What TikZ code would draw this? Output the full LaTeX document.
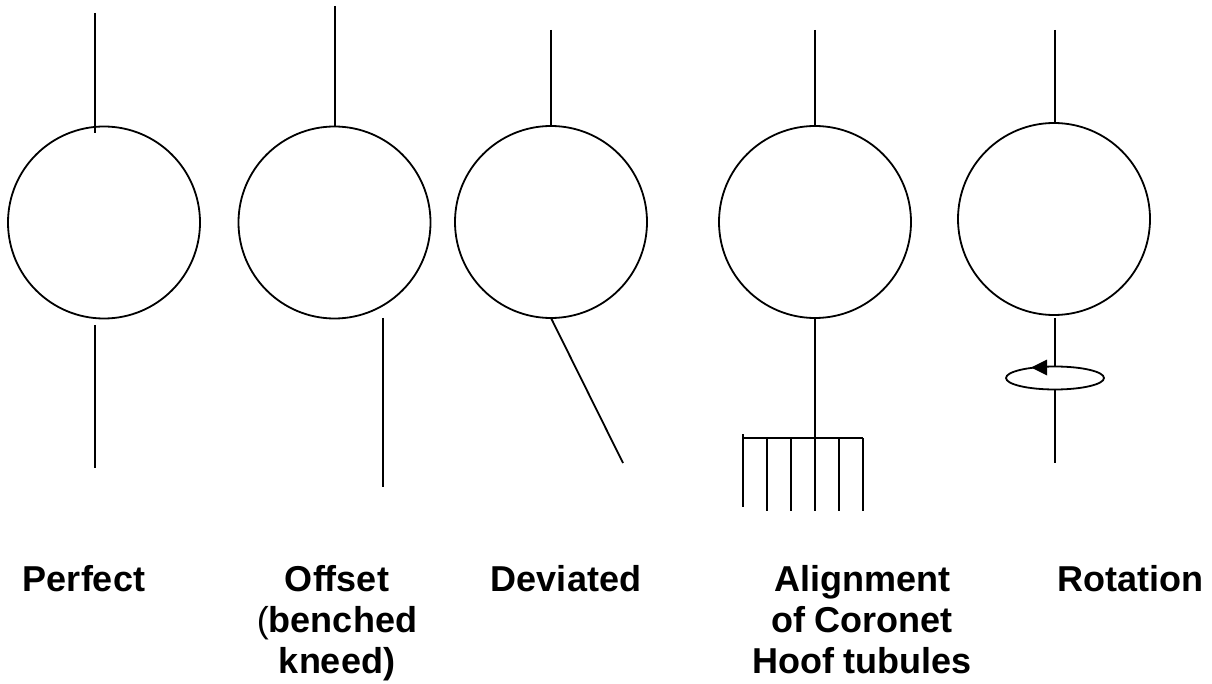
\documentclass[tikz,border=0pt]{standalone}
\usepackage{fontspec}
\setmainfont{Liberation Sans}
\usetikzlibrary{shapes.geometric}
\begin{document}
\begin{tikzpicture}[x=1pt,y=-1pt,line width=1.8pt,
  ring/.style={draw,circle,minimum size=192pt,inner sep=0pt,outer sep=0pt},
  lbl/.style={anchor=base,inner sep=0pt,font=\fontsize{36}{41}\selectfont\bfseries},
  ell/.style={draw,ellipse,minimum width=98pt,minimum height=23pt,inner sep=0pt,outer sep=0pt}]
\useasboundingbox (0,0) rectangle (1212,684);
% circles
\node[ring] (c1) at (104,222.5) {};
\node[ring] (c2) at (334.5,222.5) {};
\node[ring] (c3) at (551,222) {};
\node[ring] (c4) at (815,222) {};
\node[ring] (c5) at (1054,219) {};
% 1 perfect
\coordinate (a1) at (95,13);   \coordinate (a2) at (95,133);
\coordinate (a3) at (95,325);  \coordinate (a4) at (95,468);
\draw (a1) -- (a2);
\draw (a3) -- (a4);
% 2 offset
\coordinate (b1) at (335,6);   \coordinate (b2) at (335,127);
\coordinate (b3) at (383,318); \coordinate (b4) at (383,487);
\draw (b1) -- (b2);
\draw (b3) -- (b4);
% 3 deviated
\coordinate (d1) at (551,30);  \coordinate (d2) at (551,126);
\coordinate (d4) at (623,463);
\draw (d1) -- (d2);
\draw (c3.south) -- (d4);
% 4 coronet
\coordinate (e1) at (815,30);  \coordinate (e2) at (815,126);
\coordinate (h0) at (743,438); \coordinate (h5) at (863,438);
\coordinate (m) at (815,438);
\draw (e1) -- (e2);
\draw (c4.south) -- (m);
\draw (743,434) -- (743,507);
\draw (h0) -- (h5);
\foreach \x in {767,791,815,839,863} \draw (\x,438) -- (\x,511);
% 5 rotation
\coordinate (f1) at (1055,30);  \coordinate (f2) at (1055,123);
\node[ell] (el) at (1055,378) {};
\coordinate (f4) at (1055,463);
\draw (f1) -- (f2);
\draw (1055,318) -- (1055,366.5);
\draw (1055,389.5) -- (f4);
\fill (1031,367.5) -- (1047,359.5) -- (1047,375.5) -- cycle;
% labels
\node[lbl] (t1) at (84,591) {Perfect};
\node[lbl] (t2) at (337,591) {\begin{tabular}[t]{@{}c@{}}Offset\\{\mdseries(}benched\\kneed)\end{tabular}};
\node[lbl] (t3) at (566,591) {Deviated};
\node[lbl] (t4) at (862,591) {\begin{tabular}[t]{@{}c@{}}Alignment\\of Coronet\\Hoof tubules\end{tabular}};
\node[lbl] (t5) at (1130,591) {Rotation};
\end{tikzpicture}
\end{document}
